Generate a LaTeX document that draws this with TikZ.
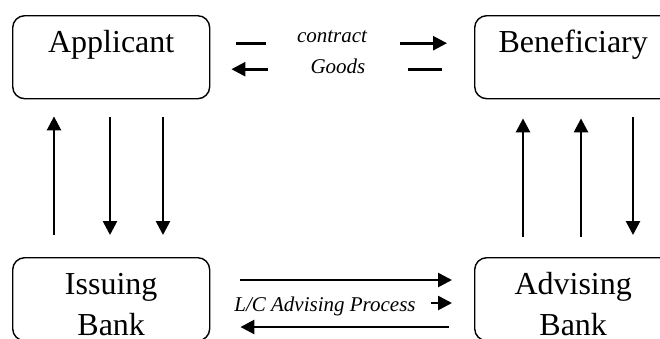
\documentclass[tikz,border=0pt]{standalone}
\usepackage{fontspec}
\setmainfont{Liberation Serif}
\usetikzlibrary{arrows.meta}

\begin{document}
\begin{tikzpicture}[x=1pt,y=-1pt,
  party/.style={draw,rounded corners=12pt,line width=1.4pt,minimum width=197pt,minimum height=83pt,inner sep=0pt,anchor=north west},
  partytext/.style={anchor=base,align=center,inner sep=0pt,font=\fontsize{32}{41}\selectfont},
  flowlbl/.style={inner sep=0pt,font=\fontsize{21}{25}\selectfont\itshape},
  flow/.style={line width=2.6pt},
  flowarr/.style={line width=2.6pt,-{Triangle[width=14pt,length=14pt]}}]
\clip (0,0) rectangle (660,338);

% the four parties
\node[party] (app) at (12,15) {};
\node[party] (ben) at (474,15) {};
\node[party] (iss) at (12,257) {};
\node[party] (adv) at (474,257) {};

\node[partytext] (apptxt) at ([yshift=-37pt]app.north) {Applicant};
\node[partytext] (bentxt) at ([yshift=-37pt]ben.north) {Beneficiary};
\node[partytext] (isstxt) at ([yshift=-78pt]iss.north) {Issuing\\Bank};
\node[partytext] (advtxt) at ([yshift=-78pt]adv.north) {Advising\\Bank};

% labels between the parties
\node[flowlbl] (contract) at (332,37) {contract};
\node[flowlbl] (goods) at (338,66) {Goods};
\node[flowlbl] (lcproc) at (325,306) {L/C Advising Process};

% applicant <-> beneficiary
\draw[flow,shorten <=26pt,shorten >=31pt] ([yshift=14pt]app.east) -- ([yshift=14pt]app.east -| contract.west);
\draw[flowarr,shorten <=33pt,shorten >=27pt] ([yshift=14pt]ben.west -| contract.east) -- ([yshift=14pt]ben.west);
\draw[flowarr,shorten <=42pt,shorten >=21pt] ([yshift=-12pt]app.east -| goods.west) -- ([yshift=-12pt]app.east);
\draw[flow,shorten <=42pt,shorten >=32pt] ([yshift=-12pt]ben.west -| goods.east) -- ([yshift=-12pt]ben.west);

% applicant <-> issuing bank
\draw[flowarr,shorten <=22pt,shorten >=17pt] ([xshift=42pt]iss.north west) -- ([xshift=42pt]app.south west);
\draw[flowarr,shorten <=18pt,shorten >=22pt] ([xshift=98pt]app.south west) -- ([xshift=98pt]iss.north west);
\draw[flowarr,shorten <=18pt,shorten >=22pt] ([xshift=151pt]app.south west) -- ([xshift=151pt]iss.north west);

% beneficiary <-> advising bank
\draw[flowarr,shorten <=20pt,shorten >=19pt] ([xshift=49pt]adv.north west) -- ([xshift=49pt]ben.south west);
\draw[flowarr,shorten <=20pt,shorten >=19pt] ([xshift=107pt]adv.north west) -- ([xshift=107pt]ben.south west);
\draw[flowarr,shorten <=18pt,shorten >=22pt] ([xshift=159pt]ben.south west) -- ([xshift=159pt]adv.north west);

% issuing bank <-> advising bank
\draw[flowarr,shorten <=30pt,shorten >=22pt] ([yshift=-23pt]iss.north east) -- ([yshift=-23pt]adv.north west);
\draw[flowarr,shorten <=15pt,shorten >=22pt] ([yshift=-46pt]adv.north west -| lcproc.east) -- ([yshift=-46pt]adv.north west);
\draw[flowarr,shorten <=25pt,shorten >=30pt] ([yshift=-70pt]adv.north west) -- ([yshift=-70pt]iss.north east);
\end{tikzpicture}
\end{document}
